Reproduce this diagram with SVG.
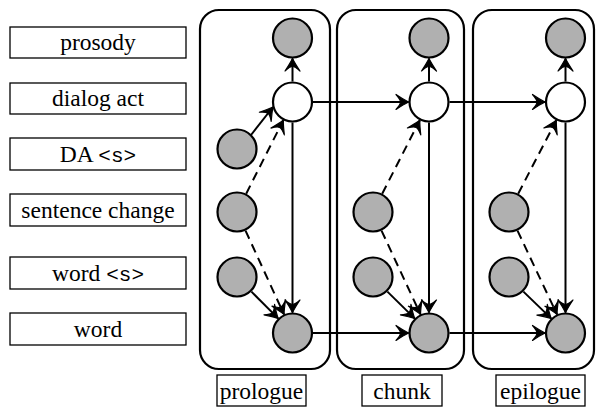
<svg xmlns="http://www.w3.org/2000/svg" width="599" height="409" viewBox="0 0 599 409">
<style>
  .lbl { fill: #fff; stroke: #000; stroke-width: 1.3; }
  .t { font-family: 'Liberation Serif', 'Times New Roman', serif; font-size: 23.5px; fill: #000; text-anchor: middle; }
  .m { font-family: 'Liberation Mono', 'Courier New', monospace; font-size: 21px; }
  .panel { fill: #fff; stroke: #000; stroke-width: 2.2; }
  .obs { fill: #b0b0b0; stroke: #000; stroke-width: 2.2; }
  .hid { fill: #fff; stroke: #000; stroke-width: 2.2; }
  .e { stroke: #000; stroke-width: 2; fill: none; marker-end: url(#ah); }
  .d { stroke-dasharray: 9 6; }
</style>
<defs>
  <marker id="ah" markerUnits="userSpaceOnUse" viewBox="-15 -9 16 18" refX="0" refY="0" markerWidth="16" markerHeight="18" orient="auto">
    <path d="M0,0 C-4,-2 -8,-4.5 -12.5,-7.5 Q-8,-2.5 -8,0 Q-8,2.5 -12.5,7.5 C-8,4.5 -4,2 0,0 Z" fill="#000" stroke="#000" stroke-width="1.2" stroke-linejoin="round"/>
  </marker>
</defs>
<rect width="599" height="409" fill="#fff"/>

<g id="label-prosody"><rect class="lbl" x="10" y="27" width="176" height="31"/><text class="t" x="98" y="50">prosody</text></g>
<g id="label-dialog-act"><rect class="lbl" x="10" y="83" width="176" height="31"/><text class="t" x="98" y="106">dialog act</text></g>
<g id="label-da-s"><rect class="lbl" x="10" y="138" width="176" height="32"/><text class="t" x="98" y="162">DA <tspan class="m">&lt;s&gt;</tspan></text></g>
<g id="label-sentence-change"><rect class="lbl" x="10" y="194" width="176" height="32"/><text class="t" x="98" y="218">sentence change</text></g>
<g id="label-word-s"><rect class="lbl" x="10" y="257" width="176" height="32"/><text class="t" x="98" y="281">word <tspan class="m">&lt;s&gt;</tspan></text></g>
<g id="label-word"><rect class="lbl" x="10" y="313" width="176" height="32"/><text class="t" x="98" y="337">word</text></g>

<g id="panel-prologue"><rect class="panel" x="200" y="10" width="130" height="359" rx="19"/></g>
<g id="panel-chunk"><rect class="panel" x="337" y="10" width="127" height="359" rx="19"/></g>
<g id="panel-epilogue"><rect class="panel" x="473" y="10" width="121" height="359" rx="19"/></g>

<g id="caption-prologue"><rect class="lbl" x="217" y="375" width="89" height="31"/><text class="t" x="261.5" y="399">prologue</text></g>
<g id="caption-chunk"><rect class="lbl" x="362" y="375" width="80" height="31"/><text class="t" x="402" y="399">chunk</text></g>
<g id="caption-epilogue"><rect class="lbl" x="496" y="375" width="89" height="31"/><text class="t" x="540.5" y="399">epilogue</text></g>

<g id="connectors">
  <line class="e" x1="292.5" y1="81.5" x2="292.5" y2="58.5"/>
  <line class="e" x1="292.5" y1="122.5" x2="292.5" y2="312.5"/>
  <line class="e" x1="251" y1="135" x2="273" y2="107"/>
  <line class="e d" x1="246.2" y1="193.7" x2="283.3" y2="120.3"/>
  <line class="e d" x1="245.5" y1="230.6" x2="284" y2="314.4"/>
  <line class="e" x1="251.4" y1="291.6" x2="278.1" y2="318.4"/>

  <line class="e" x1="429" y1="81.5" x2="429" y2="58.5"/>
  <line class="e" x1="429" y1="122.5" x2="429" y2="312.5"/>
  <line class="e d" x1="382.2" y1="193.7" x2="419.8" y2="120.3"/>
  <line class="e d" x1="381.5" y1="230.6" x2="420.5" y2="314.4"/>
  <line class="e" x1="387.4" y1="291.6" x2="414.6" y2="318.4"/>

  <line class="e" x1="565.5" y1="81.5" x2="565.5" y2="58.5"/>
  <line class="e" x1="565.5" y1="122.5" x2="565.5" y2="312.5"/>
  <line class="e d" x1="518.2" y1="193.7" x2="556.3" y2="120.3"/>
  <line class="e d" x1="517.5" y1="230.6" x2="557" y2="314.4"/>
  <line class="e" x1="523.4" y1="291.6" x2="551.1" y2="318.4"/>

  <line class="e" x1="313" y1="102" x2="408.5" y2="102"/>
  <line class="e" x1="449.5" y1="102" x2="545" y2="102"/>
  <line class="e" x1="313" y1="333" x2="408.5" y2="333"/>
  <line class="e" x1="449.5" y1="333" x2="545" y2="333"/>
</g>

<g id="p-prosody"><circle class="obs" cx="292.5" cy="38" r="19.5"/></g>
<g id="p-dialog-act"><circle class="hid" cx="292.5" cy="102" r="19.5"/></g>
<g id="p-da-s"><circle class="obs" cx="237" cy="149" r="19.5"/></g>
<g id="p-sentence-change"><circle class="obs" cx="237" cy="212" r="19.5"/></g>
<g id="p-word-s"><circle class="obs" cx="237" cy="277" r="19.5"/></g>
<g id="p-word"><circle class="obs" cx="292.5" cy="333" r="19.5"/></g>

<g id="c-prosody"><circle class="obs" cx="429" cy="38" r="19.5"/></g>
<g id="c-dialog-act"><circle class="hid" cx="429" cy="102" r="19.5"/></g>
<g id="c-sentence-change"><circle class="obs" cx="373" cy="212" r="19.5"/></g>
<g id="c-word-s"><circle class="obs" cx="373" cy="277" r="19.5"/></g>
<g id="c-word"><circle class="obs" cx="429" cy="333" r="19.5"/></g>

<g id="e-prosody"><circle class="obs" cx="565.5" cy="38" r="19.5"/></g>
<g id="e-dialog-act"><circle class="hid" cx="565.5" cy="102" r="19.5"/></g>
<g id="e-sentence-change"><circle class="obs" cx="509" cy="212" r="19.5"/></g>
<g id="e-word-s"><circle class="obs" cx="509" cy="277" r="19.5"/></g>
<g id="e-word"><circle class="obs" cx="565.5" cy="333" r="19.5"/></g>
</svg>
